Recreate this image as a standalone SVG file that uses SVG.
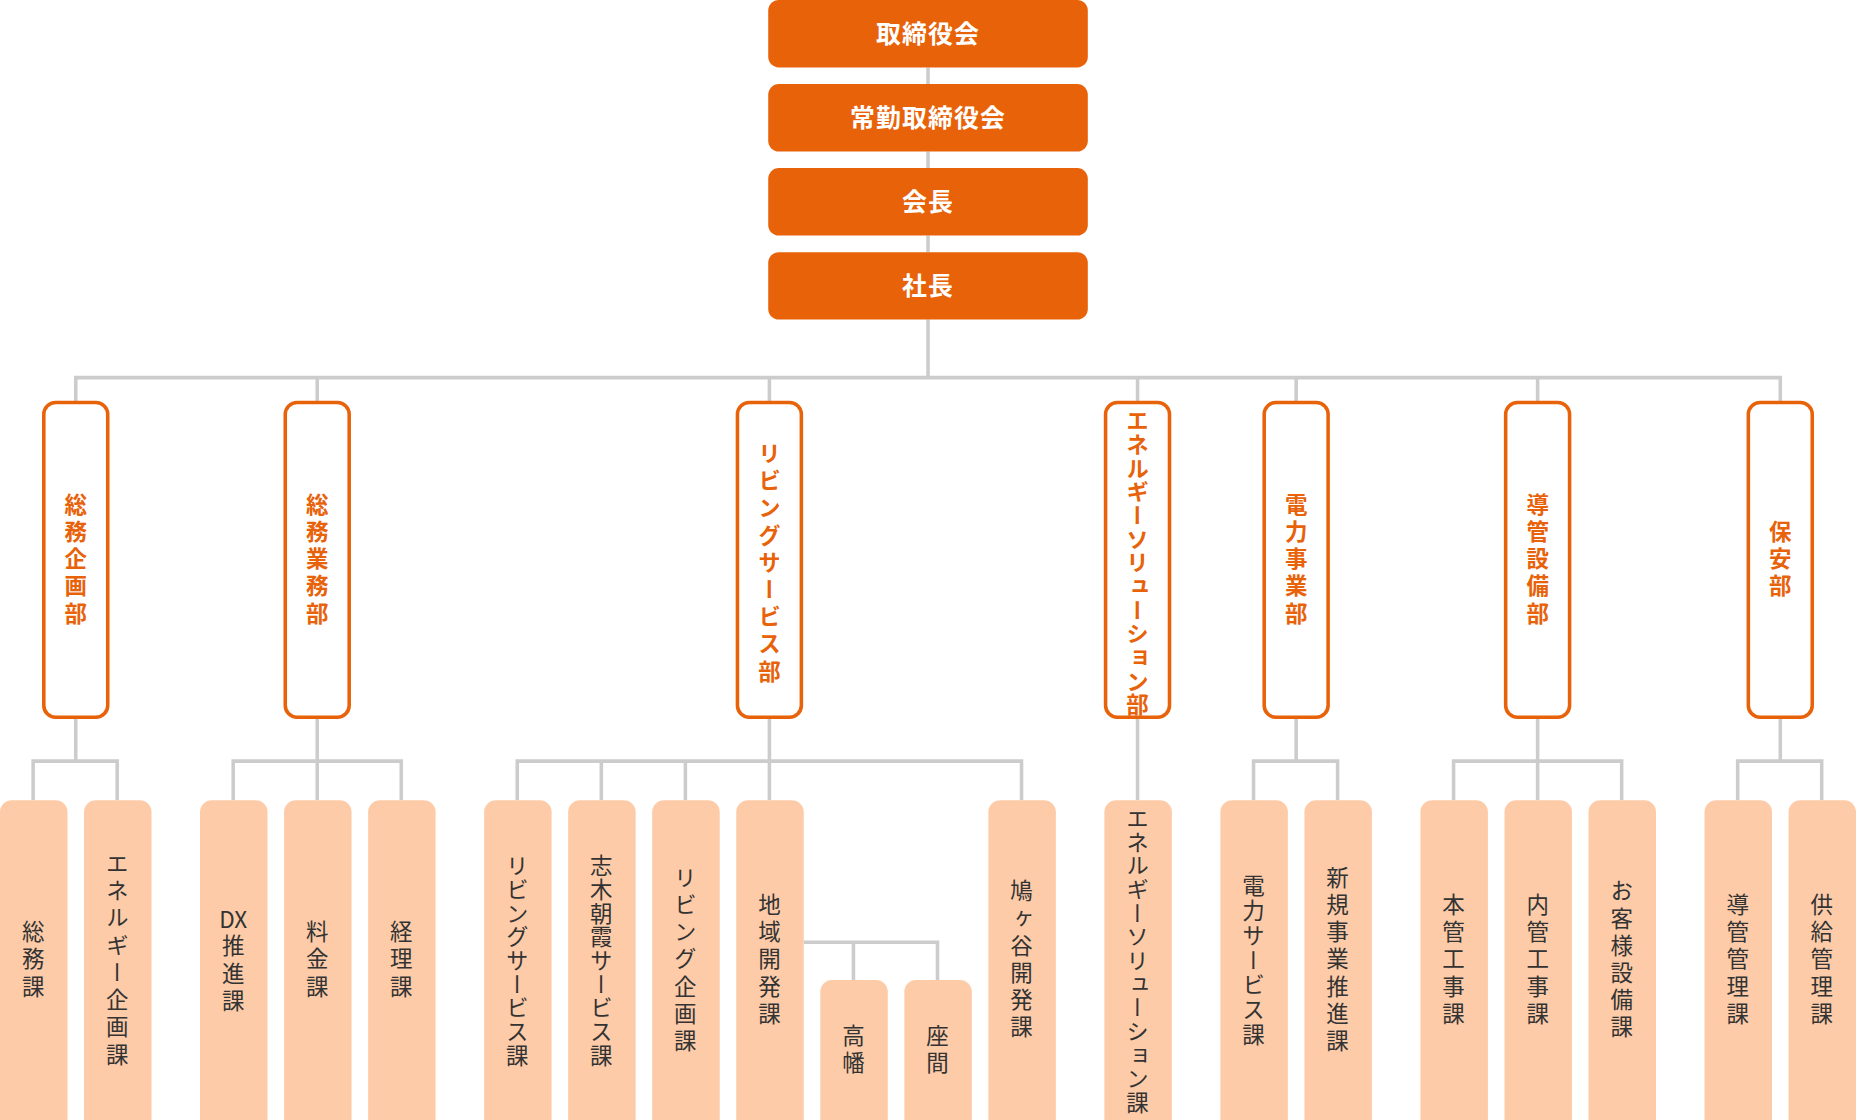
<svg xmlns="http://www.w3.org/2000/svg" width="1856" height="1120" viewBox="0 0 1856 1120">
<style>
.top{fill:#E8620A}
.tt{fill:#fff;font-family:"Noto Sans CJK JP",sans-serif;font-weight:bold;font-size:21px;text-anchor:middle;letter-spacing:1px}
.dept{fill:#fff;stroke:#E8620A;stroke-width:3}
.dt{fill:#E8620A;font-family:"Noto Sans CJK JP",sans-serif;font-weight:bold;font-size:19px;writing-mode:vertical-rl;text-anchor:middle;letter-spacing:4px}
.sec{fill:#FDCBA8}
.st{fill:#333;font-family:"Noto Sans CJK JP",sans-serif;font-size:19px;writing-mode:vertical-rl;text-anchor:middle;letter-spacing:4px}
.st2{fill:#333;font-family:"Noto Sans CJK JP",sans-serif;font-size:19px;text-anchor:middle}
#connectors path{fill:none;stroke:#ccc;stroke-width:3}
</style>
<rect width="1856" height="1120" fill="#fff"/>
<g transform="scale(1.1837)">
<g id="connectors">
<path d="M784 57V71M784 128V142M784 199V213M784 270V319M64 340V319H1504V340M268 319V340M650 319V340M961 319V340M1095 319V340M1299 319V340"/>
<path d="M64 606V643M28 676V643H99V676"/>
<path d="M268 606V676M197 676V643H339V676"/>
<path d="M650 606V676M437 676V643H863V676M508 643V676M579 643V676"/>
<path d="M679 796H792V828M721 796V828"/>
<path d="M961 606V676"/>
<path d="M1095 606V643M1059 676V643H1130V676"/>
<path d="M1299 606V676M1228 676V643H1370V676"/>
<path d="M1504 606V643M1468 676V643H1539V676"/>
</g>
<g id="n-torishimariyakukai"><rect class="top" x="649" y="0" width="270" height="57" rx="9"/><text class="tt" x="784" y="36">取締役会</text></g>
<g id="n-jokin"><rect class="top" x="649" y="71" width="270" height="57" rx="9"/><text class="tt" x="784" y="107">常勤取締役会</text></g>
<g id="n-kaicho"><rect class="top" x="649" y="142" width="270" height="57" rx="9"/><text class="tt" x="784" y="178">会長</text></g>
<g id="n-shacho"><rect class="top" x="649" y="213" width="270" height="57" rx="9"/><text class="tt" x="784" y="249">社長</text></g>

<g id="d1"><rect class="dept" x="37" y="340" width="54" height="266" rx="10"/><text class="dt" x="64" y="474">総務企画部</text></g>
<g id="d2"><rect class="dept" x="241" y="340" width="54" height="266" rx="10"/><text class="dt" x="268" y="474">総務業務部</text></g>
<g id="d3"><rect class="dept" x="623" y="340" width="54" height="266" rx="10"/><text class="dt" x="650" y="477">リビングサービス部</text></g>
<g id="d4"><rect class="dept" x="934" y="340" width="54" height="266" rx="10"/><text class="dt" x="961" y="476" style="letter-spacing:1px">エネルギーソリューション部</text></g>
<g id="d5"><rect class="dept" x="1068" y="340" width="54" height="266" rx="10"/><text class="dt" x="1095" y="474">電力事業部</text></g>
<g id="d6"><rect class="dept" x="1272" y="340" width="54" height="266" rx="10"/><text class="dt" x="1299" y="474">導管設備部</text></g>
<g id="d7"><rect class="dept" x="1477" y="340" width="54" height="266" rx="10"/><text class="dt" x="1504" y="474">保安部</text></g>

<g id="s1"><rect class="sec" x="0" y="676" width="57" height="280" rx="10"/><text class="st" x="28" y="812">総務課</text></g>
<g id="s2"><rect class="sec" x="71" y="676" width="57" height="280" rx="10"/><text class="st" x="99" y="812">エネルギー企画課</text></g>
<g id="s3"><rect class="sec" x="169" y="676" width="57" height="280" rx="10"/><text class="st2" x="197" y="784">DX</text><text class="st" x="197" y="824">推進課</text></g>
<g id="s4"><rect class="sec" x="240" y="676" width="57" height="280" rx="10"/><text class="st" x="268" y="812">料金課</text></g>
<g id="s5"><rect class="sec" x="311" y="676" width="57" height="280" rx="10"/><text class="st" x="339" y="812">経理課</text></g>
<g id="s6"><rect class="sec" x="409" y="676" width="57" height="280" rx="10"/><text class="st" x="437" y="812" style="letter-spacing:1px">リビングサービス課</text></g>
<g id="s7"><rect class="sec" x="480" y="676" width="57" height="280" rx="10"/><text class="st" x="508" y="812" style="letter-spacing:1px">志木朝霞サービス課</text></g>
<g id="s8"><rect class="sec" x="551" y="676" width="57" height="280" rx="10"/><text class="st" x="579" y="812">リビング企画課</text></g>
<g id="s9"><rect class="sec" x="622" y="676" width="57" height="280" rx="10"/><text class="st" x="650" y="812">地域開発課</text></g>
<g id="s10"><rect class="sec" x="693" y="828" width="57" height="128" rx="10"/><text class="st" x="721" y="888">高幡</text></g>
<g id="s11"><rect class="sec" x="764" y="828" width="57" height="128" rx="10"/><text class="st" x="792" y="888">座間</text></g>
<g id="s12"><rect class="sec" x="835" y="676" width="57" height="280" rx="10"/><text class="st" x="863" y="812">鳩ヶ谷開発課</text></g>
<g id="s13"><rect class="sec" x="933" y="676" width="57" height="280" rx="10"/><text class="st" x="961" y="812" style="letter-spacing:1px">エネルギーソリューション課</text></g>
<g id="s14"><rect class="sec" x="1031" y="676" width="57" height="280" rx="10"/><text class="st" x="1059" y="812" style="letter-spacing:2px">電力サービス課</text></g>
<g id="s15"><rect class="sec" x="1102" y="676" width="57" height="280" rx="10"/><text class="st" x="1130" y="812">新規事業推進課</text></g>
<g id="s16"><rect class="sec" x="1200" y="676" width="57" height="280" rx="10"/><text class="st" x="1228" y="812">本管工事課</text></g>
<g id="s17"><rect class="sec" x="1271" y="676" width="57" height="280" rx="10"/><text class="st" x="1299" y="812">内管工事課</text></g>
<g id="s18"><rect class="sec" x="1342" y="676" width="57" height="280" rx="10"/><text class="st" x="1370" y="812">お客様設備課</text></g>
<g id="s19"><rect class="sec" x="1440" y="676" width="57" height="280" rx="10"/><text class="st" x="1468" y="812">導管管理課</text></g>
<g id="s20"><rect class="sec" x="1511" y="676" width="57" height="280" rx="10"/><text class="st" x="1539" y="812">供給管理課</text></g>
</g>
</svg>
